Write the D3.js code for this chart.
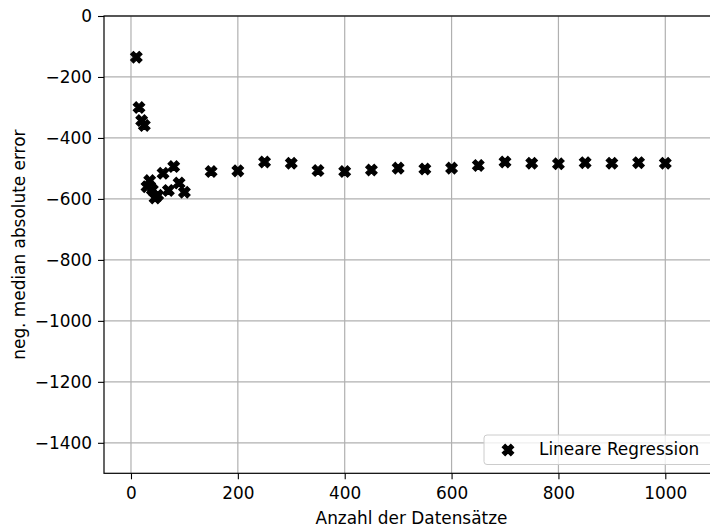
<!DOCTYPE html>
<html>
<head>
<meta charset="utf-8">
<script src="https://cdn.jsdelivr.net/npm/d3@7"></script>
<style>
  body { margin: 0; background: #fff; }
  svg { display: block; font-family: "DejaVu Sans", sans-serif; }
</style>
</head>
<body>
<svg width="710" height="529"></svg>
<script>
// Anzahl der Datensätze (x) and neg. median absolute error (y)
const sizes = [10, 15, 20, 25, 30, 35, 40, 45, 50, 60, 70, 80, 90, 100,
  150, 200, 250, 300, 350, 400, 450, 500, 550, 600, 650, 700, 750, 800, 850, 900, 950, 1000]
const errors = [-135, -300, -343, -359, -560, -540, -570, -597, -588, -516, -572, -494, -548, -578,
  -510, -508, -479, -483, -507, -510, -505, -499, -502, -499, -490, -479, -483, -485, -481, -483, -481, -483]
const xTicks = [0, 200, 400, 600, 800, 1000]
const yTicks = [0, -200, -400, -600, -800, -1000, -1200, -1400]
const seriesName = 'Lineare Regression'

const svg = d3.select('svg')
const plotLeft = 104, plotRight = 719, plotTop = 16, plotBottom = 473.3
const fontSize = 16.9

const x = d3.scaleLinear().domain([-50.5, 1100.5]).range([plotLeft, plotRight])
const y = d3.scaleLinear().domain([-1500, 0]).range([plotBottom, plotTop])

// filled "X" marker like matplotlib
const plus = [[-1, -3], [1, -3], [1, -1], [3, -1], [3, 1], [1, 1], [1, 3], [-1, 3], [-1, 1], [-3, 1], [-3, -1], [-1, -1]]
function xMarker(size) {
  const s = size / 6
  const pts = plus.map(p => [(p[0] - p[1]) / Math.SQRT2 * s, (p[0] + p[1]) / Math.SQRT2 * s])
  return 'M' + pts.map(p => p.join(',')).join('L') + 'Z'
}
const markerPath = xMarker(12)

// grid
const grid = svg.append('g').attr('class', 'grid')
grid.selectAll('.gx').data(xTicks).enter().append('line')
  .attr('x1', d => x(d)).attr('x2', d => x(d))
  .attr('y1', plotTop).attr('y2', plotBottom)
  .attr('stroke', '#b0b0b0').attr('stroke-width', 1.2)
grid.selectAll('.gy').data(yTicks).enter().append('line')
  .attr('x1', plotLeft).attr('x2', plotRight)
  .attr('y1', d => y(d)).attr('y2', d => y(d))
  .attr('stroke', '#b0b0b0').attr('stroke-width', 1.2)

// axes
const xAxis = svg.append('g')
  .attr('transform', `translate(0,${plotBottom})`)
  .call(d3.axisBottom(x).tickValues(xTicks).tickSize(6).tickPadding(8).tickFormat(d3.format('d')))
const yAxis = svg.append('g')
  .attr('transform', `translate(${plotLeft},0)`)
  .call(d3.axisLeft(y).tickValues(yTicks).tickSize(6).tickPadding(6).tickFormat(d3.format('d')))

for (const ax of [xAxis, yAxis]) {
  ax.select('.domain').remove()
  ax.selectAll('.tick line').attr('stroke', '#000').attr('stroke-width', 1.1)
  ax.selectAll('.tick text').attr('font-size', fontSize).attr('fill', '#000')
    .attr('font-family', '"DejaVu Sans", sans-serif')
}

// spines
svg.append('rect')
  .attr('x', plotLeft).attr('y', plotTop)
  .attr('width', plotRight - plotLeft).attr('height', plotBottom - plotTop)
  .attr('fill', 'none').attr('stroke', '#000').attr('stroke-width', 1.2)

// points
svg.append('g').selectAll('path')
  .data(sizes.map((d, i) => [d, errors[i]]))
  .enter().append('path')
  .attr('d', markerPath)
  .attr('transform', d => `translate(${x(d[0])},${y(d[1])})`)
  .attr('fill', '#000').attr('stroke', '#000').attr('stroke-width', 1.2)

// axis labels
svg.append('text')
  .attr('x', (plotLeft + plotRight) / 2).attr('y', 524)
  .attr('text-anchor', 'middle').attr('font-size', fontSize)
  .text('Anzahl der Datensätze')
svg.append('text')
  .attr('transform', `translate(25,${(plotTop + plotBottom) / 2}) rotate(-90)`)
  .attr('text-anchor', 'middle').attr('font-size', fontSize)
  .text('neg. median absolute error')

// legend
const legend = svg.append('g')
legend.append('rect')
  .attr('x', 484).attr('y', 435).attr('width', 250).attr('height', 29.5).attr('rx', 3)
  .attr('fill', '#fff').attr('fill-opacity', 0.8)
  .attr('stroke', '#cccccc').attr('stroke-width', 1)
legend.append('path')
  .attr('d', markerPath)
  .attr('transform', 'translate(508,450)')
  .attr('fill', '#000').attr('stroke', '#000').attr('stroke-width', 1.2)
legend.append('text')
  .attr('x', 539).attr('y', 455).attr('font-size', fontSize)
  .text(seriesName)
</script>
</body>
</html>
